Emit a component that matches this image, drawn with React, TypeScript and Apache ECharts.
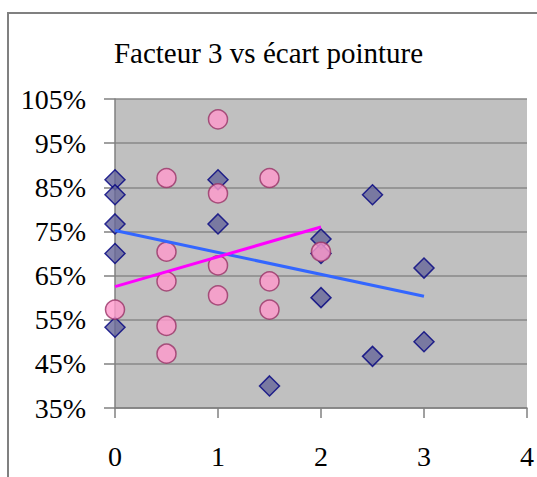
import React, { useEffect, useRef } from "react";
import * as echarts from "echarts";

const titleText = "Facteur 3 vs écart pointure";
const xTicks = [0, 1, 2, 3, 4];
const yTickPercents = [35, 45, 55, 65, 75, 85, 95, 105];

// Series 1 (diamonds): [x, value in %]
const diamondX = [0, 0, 0, 0, 0, 1, 1, 1.5, 2, 2, 2, 2.5, 2.5, 3, 3];
const diamondY = [86.7, 83.3, 76.7, 70, 53.3, 86.7, 76.7, 40, 73.3, 70, 60, 83.3, 46.7, 66.7, 50];

// Series 2 (circles): [x, value in %]
const circleX = [0, 0.5, 0.5, 0.5, 0.5, 0.5, 1, 1, 1, 1, 1.5, 1.5, 1.5, 2];
const circleY = [57.3, 87.1, 70.4, 63.7, 53.6, 47.3, 100.4, 83.6, 67.3, 60.5, 87.1, 63.7, 57.3, 70.4];

// Trend lines (endpoints)
const blueTrendX = [0, 3];
const blueTrendY = [75.2, 60.3];
const pinkTrendX = [0, 2];
const pinkTrendY = [62.5, 76];

const Y_BASE = 35; // axis minimum (percent)

export default function App() {
  const ref = useRef<HTMLDivElement>(null);
  useEffect(() => {
    if (!ref.current) return;
    const chart = echarts.init(ref.current, null, { renderer: "svg" });
    const toPts = (xs: number[], ys: number[]) => xs.map((x, i) => [x, ys[i] - Y_BASE]);
    const font = "'Liberation Serif', 'Times New Roman', serif";
    chart.setOption({
      animation: false,
      backgroundColor: "#ffffff",
      title: {
        text: titleText,
        left: "center",
        top: 33,
        textStyle: { fontFamily: font, fontSize: 29, fontWeight: "normal", color: "#000" },
      },
      graphic: [
        {
          type: "rect",
          shape: { x: 8, y: 13, width: 700, height: 700 },
          style: { fill: "none", stroke: "#808080", lineWidth: 2 },
          silent: true,
          z: -1,
        },
      ],
      grid: {
        left: 115,
        top: 99,
        width: 416,
        height: 309,
        show: true,
        backgroundColor: "#c0c0c0",
        borderWidth: 0,
      },
      xAxis: {
        type: "value",
        min: xTicks[0],
        max: xTicks[xTicks.length - 1],
        interval: 1,
        axisLine: { show: true, onZero: false, lineStyle: { color: "#808080", width: 1.5 } },
        axisTick: { show: true, length: 10, lineStyle: { color: "#808080", width: 1.5 } },
        splitLine: { show: false },
        axisLabel: { fontFamily: font, fontSize: 28, color: "#000", margin: 34 },
      },
      yAxis: {
        type: "value",
        min: 0,
        max: yTickPercents[yTickPercents.length - 1] - Y_BASE,
        interval: 10,
        axisLine: { show: true, onZero: false, lineStyle: { color: "#808080", width: 1.5 } },
        axisTick: { show: true, length: 11, lineStyle: { color: "#808080", width: 1.5 } },
        splitLine: { show: true, lineStyle: { color: "#888888", width: 1.5 } },
        axisLabel: {
          fontFamily: font,
          fontSize: 28,
          color: "#000",
          margin: 29,
          formatter: (v: number) => `${Math.round(v + Y_BASE)}%`,
        },
      },
      series: [
        {
          type: "scatter",
          symbol: "diamond",
          symbolSize: 20,
          data: toPts(diamondX, diamondY),
          itemStyle: { color: "#666699", borderColor: "#000080", borderWidth: 1.5 },
          z: 2,
        },
        {
          type: "scatter",
          symbol: "circle",
          symbolSize: 19,
          data: toPts(circleX, circleY),
          itemStyle: { color: "#ff99cc", borderColor: "#993366", borderWidth: 1.5 },
          z: 3,
        },
        {
          type: "line",
          data: toPts(blueTrendX, blueTrendY),
          showSymbol: false,
          symbol: "none",
          lineStyle: { color: "#3366ff", width: 3 },
          z: 4,
        },
        {
          type: "line",
          data: toPts(pinkTrendX, pinkTrendY),
          showSymbol: false,
          symbol: "none",
          lineStyle: { color: "#ff00ff", width: 3 },
          z: 5,
        },
      ],
    });
    return () => chart.dispose();
  }, []);
  return (
    <div
      ref={ref}
      style={{ position: "absolute", left: 0, top: 0, width: 537, height: 477 }}
    />
  );
}
